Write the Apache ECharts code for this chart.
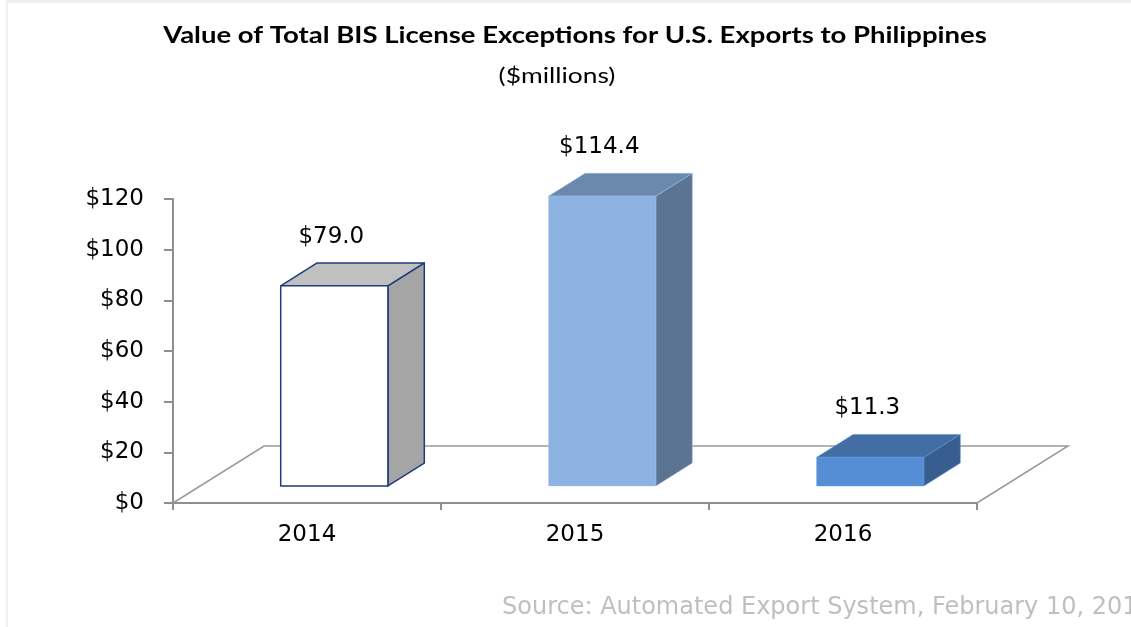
<!DOCTYPE html>
<html>
<head>
<meta charset="utf-8">
<title>BIS License Exceptions - Philippines</title>
<script src="https://cdn.jsdelivr.net/npm/echarts@6/dist/echarts.min.js"></script>
<style>
    html, body { margin: 0; padding: 0; background: #fff; }
    #chart { width: 1131px; height: 627px; }
</style>
</head>
<body>
<div id="chart"></div>
<script>
// 数据
var years = ['2014', '2015', '2016'];
var values = [79.0, 114.4, 11.3];
var yTicks = [0, 20, 40, 60, 80, 100, 120];

// 每个柱子的颜色: 正面 / 顶面 / 侧面 / 边框
var frontColors = ['#ffffff', '#8db3e2', '#558ed5'];
var topColors = ['#c0c0c0', '#6b89ad', '#426ea4'];
var sideColors = ['#a5a5a5', '#5b7492', '#375e8e'];
var edgeColors = ['#1f3b7d', '#9dbde6', '#5f95d8'];
var edgeWidths = [1.5, 0.5, 0.5];

// 3D 地板的进深(像素)
var DEPTH_X = 91;
var DEPTH_Y = -57;

var myChart = echarts.init(document.getElementById('chart'));

// 地板
function renderFloor(params, api) {
    var cs = params.coordSys;
    var x0 = cs.x, x1 = cs.x + cs.width;
    var y0 = cs.y + cs.height;
    return {
        type: 'polyline',
        shape: {
            points: [
                [x0, y0],
                [x0 + DEPTH_X, y0 + DEPTH_Y],
                [x1 + DEPTH_X, y0 + DEPTH_Y],
                [x1, y0]
            ]
        },
        style: { stroke: '#9a9a9a', lineWidth: 1.5, fill: null }
    };
}

// 立体柱子
function renderBar(params, api) {
    var idx = api.value(0);
    var val = api.value(1);
    var base = api.coord([idx, 0]);
    var top = api.coord([idx, val]);
    var band = api.size([1, 0])[0];
    var w = band * 0.4;
    var fx = base[0] - w / 2 + DEPTH_X * 0.3;
    var fy0 = base[1] + DEPTH_Y * 0.3;
    var fy1 = top[1] + DEPTH_Y * 0.3;
    var dx = DEPTH_X * 0.4;
    var dy = DEPTH_Y * 0.4;
    var i = params.dataIndex;
    var edge = { stroke: edgeColors[i], lineWidth: edgeWidths[i], lineJoin: 'round' };
    return {
        type: 'group',
        children: [
            {
                type: 'polygon',
                shape: { points: [[fx + w, fy1], [fx + w + dx, fy1 + dy], [fx + w + dx, fy0 + dy], [fx + w, fy0]] },
                style: Object.assign({ fill: sideColors[i] }, edge)
            },
            {
                type: 'polygon',
                shape: { points: [[fx, fy1], [fx + w, fy1], [fx + w + dx, fy1 + dy], [fx + dx, fy1 + dy]] },
                style: Object.assign({ fill: topColors[i] }, edge)
            },
            {
                type: 'rect',
                shape: { x: fx, y: fy1, width: w, height: fy0 - fy1 },
                style: Object.assign({ fill: frontColors[i] }, edge)
            },
            {
                type: 'text',
                style: {
                    x: fx + w / 2 - 3,
                    y: fy1 + dy - 26,
                    text: '$' + val.toFixed(1),
                    align: 'center',
                    verticalAlign: 'middle',
                    fill: '#000',
                    font: '23px "DejaVu Sans"'
                }
            }
        ]
    };
}

var option = {
    animation: false,
    backgroundColor: '#fff',
    graphic: [
        { type: 'rect', shape: { x: 6, y: 0, width: 1125, height: 3 }, style: { fill: '#efefef' } },
        { type: 'rect', shape: { x: 6, y: 0, width: 2, height: 627 }, style: { fill: '#efefef' } },
        {
            type: 'text',
            x: 575,
            y: 36,
            scaleX: 1.25,
            style: {
                text: 'Value of Total BIS License Exceptions for U.S. Exports to Philippines',
                align: 'center',
                verticalAlign: 'middle',
                fill: '#000',
                font: 'bold 22px Lato'
            }
        },
        {
            type: 'text',
            x: 557,
            y: 76,
            scaleX: 1.2,
            style: {
                text: '($millions)',
                align: 'center',
                verticalAlign: 'middle',
                fill: '#000',
                font: '22px Lato'
            }
        },
        {
            type: 'text',
            x: 502,
            y: 608,
            style: {
                text: 'Source: Automated Export System, February 10, 2017',
                verticalAlign: 'middle',
                fill: '#bfbfbf',
                font: '24px "DejaVu Sans"'
            }
        }
    ],
    grid: {
        left: 173,
        right: 154,
        top: 199,
        bottom: 124
    },
    xAxis: {
        type: 'category',
        data: years,
        axisLine: { show: true, lineStyle: { color: '#8e8e8e', width: 2 } },
        axisTick: { show: true, length: 7, interval: 0, lineStyle: { color: '#8e8e8e', width: 2 } },
        axisLabel: { margin: 21, fontFamily: 'DejaVu Sans', fontSize: 23, color: '#000' },
        splitLine: { show: false }
    },
    yAxis: {
        type: 'value',
        min: 0,
        max: 120,
        interval: 20,
        axisLine: { show: true, lineStyle: { color: '#8e8e8e', width: 2 } },
        axisTick: { show: true, length: 9, lineStyle: { color: '#8e8e8e', width: 2 } },
        axisLabel: {
            margin: 29,
            fontFamily: 'DejaVu Sans',
            fontSize: 23,
            color: '#000',
            formatter: function (v) {
                return yTicks.indexOf(v) >= 0 ? '$' + v : '';
            }
        },
        splitLine: { show: false }
    },
    series: [
        {
            name: 'floor',
            type: 'custom',
            z: 1,
            silent: true,
            renderItem: renderFloor,
            data: [[0, 0]]
        },
        {
            name: 'value',
            type: 'custom',
            z: 5,
            renderItem: renderBar,
            data: values.map(function (v, i) { return [i, v]; })
        }
    ]
};

myChart.setOption(option);
</script>
</body>
</html>
